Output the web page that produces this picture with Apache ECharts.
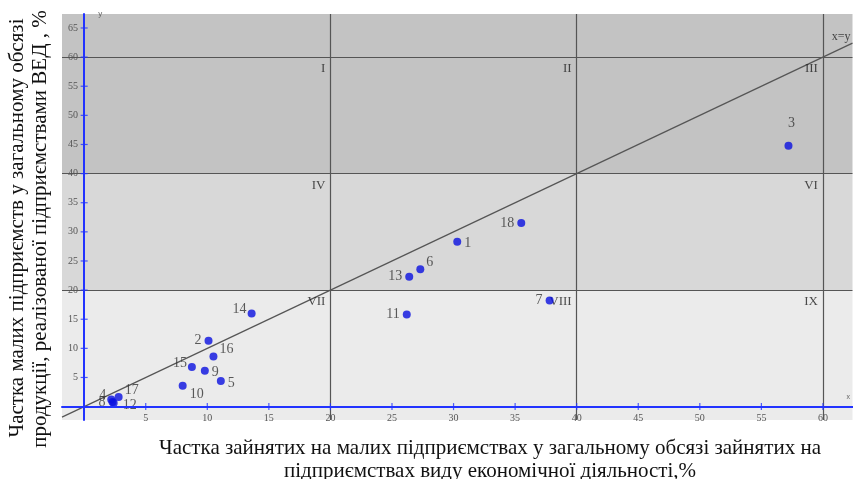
<!DOCTYPE html>
<html>
<head>
<meta charset="utf-8">
<script src="https://cdn.jsdelivr.net/npm/echarts@6/dist/echarts.min.js"></script>
<style>
html,body{margin:0;padding:0;background:#fff;}
#c{width:853px;height:479px;}
</style>
</head>
<body>
<div id="c"></div>
<script>
// ---- data ----
var pointIds = ['1','2','3','4','5','6','7','8','9','10','11','12','13','14','15','16','17','18'];
var xValues  = [30.3,10.1,57.2,2.2,11.1,27.3,37.8,2.3,9.8,8.0,26.2,2.4,26.4,13.6,8.75,10.5,2.8,35.5];
var yValues  = [28.3,11.3,44.8,1.2,4.4,23.6,18.2,0.8,6.15,3.6,15.8,0.6,22.3,16.0,6.8,8.6,1.65,31.5];
var xTicks = [5,10,15,20,25,30,35,40,45,50,55,60];
var yTicks = [5,10,15,20,25,30,35,40,45,50,55,60,65];
var bandEdges = [20,40,60];
var regionNames = [['I','II','III'],['IV','','VI'],['VII','VIII','IX']];
var xTitle = ['Частка зайнятих на малих підприємствах у загальному обсязі зайнятих на','підприємствах виду економічної діяльності,%'];
var yTitle = ['Частка малих підприємств у загальному обсязі','продукції, реалізованої підприємствами ВЕД , %'];
var diagName = 'x=y';

// ---- styles ----
var labelPos = {'1':'right','2':'left','3':'top','4':'topLeft','5':'right','6':'topRight','7':'left','8':'left',
  '9':'right','10':'bottomRight','11':'left','12':'lowRight','13':'left','14':'topLeft','15':'topLeft',
  '16':'topRight','17':'topRight','18':'left'};
var posMap = {
  right:{position:'right',offset:[0,2]}, left:{position:'left',offset:[0,0]}, top:{position:'top',offset:[3,-8]},
  topLeft:{position:'left',offset:[2,-4]}, topRight:{position:'right',offset:[-1,-7]},
  bottomRight:{position:'right',offset:[0,9]}, lowRight:{position:'right',offset:[2,2]}
};
var serif = '"Liberation Serif","DejaVu Serif",serif';
var XMIN=-1.8, XMAX=62.4, YMIN=-2.3, YMAX=67.4;
var AXIS_BLUE = '#2233ff';

var pts = pointIds.map(function(id,i){
  var p = posMap[labelPos[id]];
  return {value:[xValues[i],yValues[i]], name:id,
    label:{show:true, formatter:id, position:p.position, offset:p.offset}};
});

var regionData = [];
regionNames.forEach(function(row,r){
  row.forEach(function(nm,c){
    if(!nm) return;
    regionData.push({value:[bandEdges[c], bandEdges[2-r]], name:nm});
  });
});

var chart = echarts.init(document.getElementById('c'), null, {renderer:'canvas'});
chart.setOption({
  animation:false,
  backgroundColor:'#ffffff',
  grid:{left:62,right:0,top:14,bottom:59,containLabel:false},
  xAxis:{type:'value',min:XMIN,max:XMAX,z:10,
    name:'x',nameLocation:'end',nameGap:-6,nameTextStyle:{fontSize:7,color:'#666',verticalAlign:'bottom',padding:[0,0,6,0]},
    axisLine:{onZero:true,lineStyle:{color:AXIS_BLUE,width:2}},
    axisTick:{show:false},
    axisLabel:{customValues:xTicks,color:'#555',fontSize:10,fontFamily:serif,margin:-7},
    splitLine:{show:false}},
  yAxis:{type:'value',min:YMIN,max:YMAX,z:10,
    name:'y',nameLocation:'end',nameGap:-4,nameTextStyle:{fontSize:8,color:'#666',align:'left',padding:[0,0,0,14]},
    axisLine:{onZero:true,lineStyle:{color:AXIS_BLUE,width:2}},
    axisTick:{show:false},
    axisLabel:{customValues:yTicks,color:'#555',fontSize:10,fontFamily:serif,margin:-16},
    splitLine:{show:false}},
  series:[
    {type:'line',silent:true,symbol:'none',data:[],z:1,
      markArea:{silent:true,data:[
        [{yAxis:YMIN,itemStyle:{color:'#ebebeb'}},{yAxis:bandEdges[0]}],
        [{yAxis:bandEdges[0],itemStyle:{color:'#d8d8d8'}},{yAxis:bandEdges[1]}],
        [{yAxis:bandEdges[1],itemStyle:{color:'#c3c3c3'}},{yAxis:YMAX}]
      ]},
      markLine:{silent:true,symbol:'none',label:{show:false},lineStyle:{color:'#555',width:1.2,type:'solid'},
        data:bandEdges.map(function(v){return {xAxis:v};}).concat(bandEdges.map(function(v){return {yAxis:v};}))}
    },
    {type:'line',silent:true,symbol:'none',data:[[XMIN,XMIN],[XMAX,XMAX]],clip:true,
      lineStyle:{color:'#555',width:1.2},z:3},
    // axis tick marks at zero lines
    {type:'scatter',silent:true,symbol:'rect',symbolSize:[1.2,7],z:11,itemStyle:{color:AXIS_BLUE},
      data:xTicks.map(function(t){return [t,0];})},
    {type:'scatter',silent:true,symbol:'rect',symbolSize:[7,1.2],z:11,itemStyle:{color:AXIS_BLUE},
      data:yTicks.map(function(t){return [0,t];})},
    {type:'scatter',silent:true,symbolSize:0,data:[[XMAX,XMAX]],z:4,
      label:{show:true,formatter:diagName,position:'left',offset:[3,-6],color:'#222',fontSize:12,fontFamily:serif}},
    {type:'scatter',silent:true,symbolSize:0,data:regionData,z:4,
      label:{show:true,formatter:function(p){return p.name;},position:'insideTopRight',align:'right',verticalAlign:'top',
        offset:[0,0],color:'#222',fontSize:13,fontFamily:serif}},
    {type:'scatter',symbol:'circle',symbolSize:8,data:pts,z:5,
      itemStyle:{color:'#0a10e0'},
      label:{color:'#333',fontSize:14,fontFamily:serif,distance:3}}
  ],
  graphic:[
    {type:'text',x:490,y:438,style:{text:xTitle[0],font:'21px '+serif,fill:'#111',align:'center',verticalAlign:'top'}},
    {type:'text',x:490,y:461,style:{text:xTitle[1],font:'21px '+serif,fill:'#111',align:'center',verticalAlign:'top'}},
    {type:'text',x:7,y:228,rotation:Math.PI/2,style:{text:yTitle[0],font:'21px '+serif,fill:'#111',align:'center',verticalAlign:'top'}},
    {type:'text',x:30,y:229,rotation:Math.PI/2,style:{text:yTitle[1],font:'21px '+serif,fill:'#111',align:'center',verticalAlign:'top'}}
  ]
});
</script>
</body>
</html>
